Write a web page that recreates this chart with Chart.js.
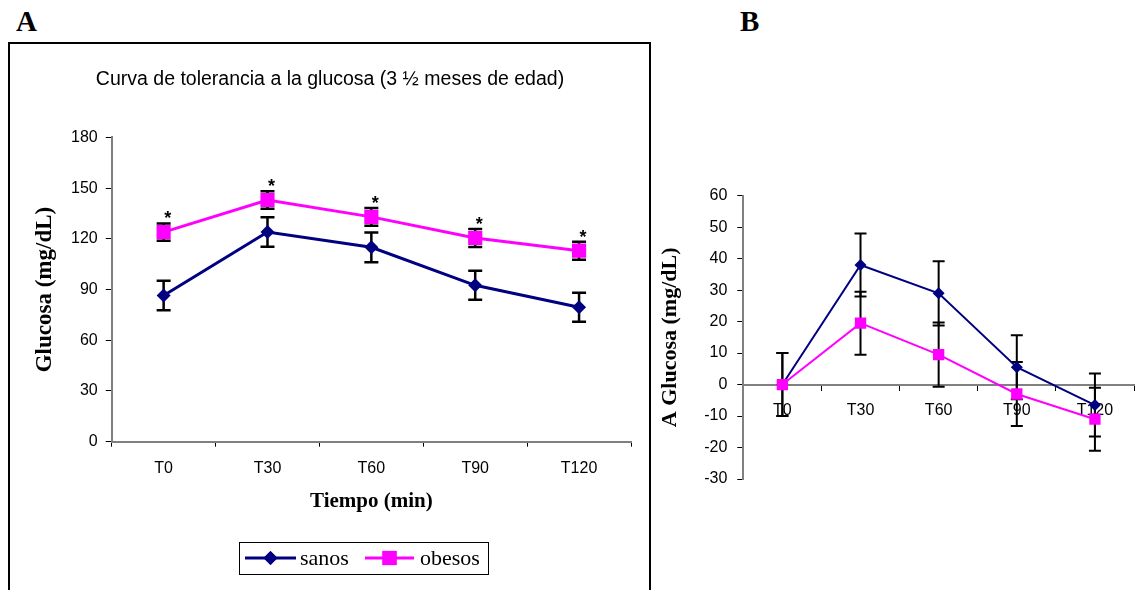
<!DOCTYPE html>
<html>
<head>
<meta charset="utf-8">
<script src="https://cdn.jsdelivr.net/npm/chart.js@4.4.1/dist/chart.umd.min.js"></script>
<style>
  html, body { margin: 0; padding: 0; background: #fff; }
  body { position: relative; width: 1142px; height: 590px; overflow: hidden; }
  .panel-label { position: absolute; top: 7px; font-family: "Liberation Serif", serif; font-weight: bold; font-size: 29px; line-height: 1; color: #000; }
  #frame { position: absolute; left: 8px; top: 42px; width: 643px; height: 600px; box-sizing: border-box; border: 2px solid #000; border-bottom: none; }
  canvas { position: absolute; top: 0; }
</style>
</head>
<body>
<div class="panel-label" style="left:16px">A</div>
<div class="panel-label" style="left:740px">B</div>
<div id="frame"></div>
<canvas id="chartA" width="652" height="590" style="left:0"></canvas>
<canvas id="chartB" width="490" height="590" style="left:652px"></canvas>
<script>
const timeLabels = ["T0", "T30", "T60", "T90", "T120"];

// A: glucosa absoluta
const sanosA = [86.5, 124, 115, 92.5, 79.5];
const sanosAErr = [8.7, 8.7, 8.8, 8.6, 8.6];
const obesosA = [124, 143, 133, 120.5, 113];
const obesosAErr = [5.1, 5.2, 5.3, 5.3, 5.3];
const signifA = [true, true, true, true, true];

// B: delta glucosa
const sanosB = [0, 38, 29, 5.5, -6.5];
const sanosBErr = [10, 10, 10.2, 10.2, 10];
const obesosB = [0, 19.5, 9.5, -3, -11];
const obesosBErr = [10, 10, 10.2, 10.2, 10];

const NAVY = "#000080";
const MAGENTA = "#ff00ff";
const SANS = "Liberation Sans";
const SERIF = "Liberation Serif";

Chart.defaults.font.family = SANS;
Chart.defaults.color = "#000";

const errorBars = {
  id: "errorBars",
  beforeDatasetsDraw(chart, args, opts) {
    const ctx = chart.ctx;
    const y = chart.scales.y;
    ctx.save();
    ctx.strokeStyle = "#000";
    ctx.lineWidth = opts.width;
    chart.data.datasets.forEach((ds, i) => {
      chart.getDatasetMeta(i).data.forEach((pt, j) => {
        const top = y.getPixelForValue(ds.data[j] + ds.errors[j]);
        const bot = y.getPixelForValue(ds.data[j] - ds.errors[j]);
        ctx.beginPath();
        ctx.moveTo(pt.x, top);
        ctx.lineTo(pt.x, bot);
        ctx.moveTo(pt.x - opts.cap, top);
        ctx.lineTo(pt.x + opts.cap, top);
        ctx.moveTo(pt.x - opts.cap, bot);
        ctx.lineTo(pt.x + opts.cap, bot);
        ctx.stroke();
      });
    });
    ctx.restore();
  }
};

const asterisks = {
  id: "asterisks",
  afterDatasetsDraw(chart) {
    const ctx = chart.ctx;
    const y = chart.scales.y;
    const ds = chart.data.datasets[1];
    ctx.save();
    ctx.fillStyle = "#000";
    ctx.font = "bold 18px " + SANS;
    ctx.textAlign = "center";
    ctx.textBaseline = "alphabetic";
    chart.getDatasetMeta(1).data.forEach((pt, j) => {
      if (!signifA[j]) return;
      const top = y.getPixelForValue(ds.data[j] + ds.errors[j]);
      ctx.fillText("*", pt.x + 4, top + 1);
    });
    ctx.restore();
  }
};

const boxLegend = {
  id: "boxLegend",
  afterDraw(chart) {
    const ctx = chart.ctx;
    const sets = chart.data.datasets;
    ctx.save();
    ctx.strokeStyle = "#000";
    ctx.lineWidth = 1;
    ctx.strokeRect(239.5, 542.5, 249, 32);
    const items = [[245, 296, 300], [365, 414, 420]];
    items.forEach(([x1, x2, tx], i) => {
      const ds = sets[i];
      ctx.strokeStyle = ds.borderColor;
      ctx.lineWidth = 3;
      ctx.beginPath();
      ctx.moveTo(x1, 558);
      ctx.lineTo(x2, 558);
      ctx.stroke();
      ctx.fillStyle = ds.pointBackgroundColor;
      Chart.helpers.drawPoint(ctx, { pointStyle: ds.pointStyle, radius: ds.pointRadius, borderWidth: 0 }, (x1 + x2) / 2, 558);
      ctx.fill();
      ctx.fillStyle = "#000";
      ctx.font = "22px " + SERIF;
      ctx.textBaseline = "alphabetic";
      ctx.fillText(ds.label, tx, 565);
    });
    ctx.restore();
  }
};

function axisOpts(extra) {
  return Object.assign({
    grid: { drawOnChartArea: false, drawTicks: true, tickLength: 6, color: "#000", lineWidth: 1 },
    border: { color: "#808080", width: 2 },
    ticks: { color: "#000", font: { family: SANS, size: 16 } }
  }, extra);
}

new Chart(document.getElementById("chartA"), {
  type: "line",
  data: {
    labels: timeLabels,
    datasets: [{
      label: "sanos",
      data: sanosA,
      errors: sanosAErr,
      order: 1,
      borderColor: NAVY,
      backgroundColor: NAVY,
      pointBackgroundColor: NAVY,
      pointBorderWidth: 0,
      borderWidth: 3,
      pointStyle: "rectRot",
      pointRadius: 7,
      tension: 0
    }, {
      label: "obesos",
      data: obesosA,
      errors: obesosAErr,
      order: 0,
      borderColor: MAGENTA,
      backgroundColor: MAGENTA,
      pointBackgroundColor: MAGENTA,
      pointBorderWidth: 0,
      borderWidth: 3,
      pointStyle: "rect",
      pointRadius: 10,
      tension: 0
    }]
  },
  options: {
    responsive: false,
    animation: false,
    devicePixelRatio: 1,
    layout: { padding: { left: 29, right: 21, top: 20, bottom: 0 } },
    plugins: {
      legend: { display: false },
      tooltip: { enabled: false },
      title: {
        display: true,
        text: "Curva de tolerancia a la glucosa (3 \u00bd meses de edad)",
        color: "#000",
        font: { family: SANS, size: 19.5, weight: "normal" },
        padding: { top: 48, bottom: 46 }
      },
      errorBars: { width: 2.5, cap: 7 }
    },
    scales: {
      x: axisOpts({
        offset: true,
        grid: { offset: true, drawOnChartArea: false, drawTicks: true, tickLength: 5, color: "#000", lineWidth: 1 },
        ticks: { color: "#000", font: { family: SANS, size: 16 }, padding: 12, maxRotation: 0, autoSkip: false },
        title: { display: true, text: "Tiempo (min)", color: "#000", font: { family: SERIF, size: 21, weight: "bold" }, padding: { top: 0, bottom: 76 } },
        afterFit(s) { s.height = 148.3; }
      }),
      y: axisOpts({
        min: 0,
        max: 180,
        ticks: { color: "#000", font: { family: SANS, size: 16 }, stepSize: 30, padding: 8 },
        title: { display: true, text: "Glucosa (mg/dL)", color: "#000", font: { family: SERIF, size: 23, weight: "bold" }, padding: { top: 2, bottom: 0 } },
        afterFit(s) { s.width = 82.7; }
      })
    }
  },
  plugins: [errorBars, asterisks, boxLegend]
});

new Chart(document.getElementById("chartB"), {
  type: "line",
  data: {
    labels: timeLabels,
    datasets: [{
      label: "sanos",
      data: sanosB,
      errors: sanosBErr,
      order: 1,
      borderColor: NAVY,
      backgroundColor: NAVY,
      pointBackgroundColor: NAVY,
      pointBorderWidth: 0,
      borderWidth: 2,
      pointStyle: "rectRot",
      pointRadius: 6,
      tension: 0
    }, {
      label: "obesos",
      data: obesosB,
      errors: obesosBErr,
      order: 0,
      borderColor: MAGENTA,
      backgroundColor: MAGENTA,
      pointBackgroundColor: MAGENTA,
      pointBorderWidth: 0,
      borderWidth: 2,
      pointStyle: "rect",
      pointRadius: 8,
      tension: 0
    }]
  },
  options: {
    responsive: false,
    animation: false,
    devicePixelRatio: 1,
    layout: { padding: { left: 2, right: 1, top: 195.7, bottom: 111 } },
    plugins: {
      legend: { display: false },
      tooltip: { enabled: false },
      errorBars: { width: 2, cap: 6 }
    },
    scales: {
      x: axisOpts({
        position: { y: 0 },
        offset: true,
        grid: { offset: true, drawOnChartArea: false, drawTicks: true, tickLength: 5, color: "#000", lineWidth: 1 },
        ticks: { color: "#000", font: { family: SANS, size: 16 }, padding: 11, maxRotation: 0, autoSkip: false }
      }),
      y: axisOpts({
        min: -30,
        max: 60,
        ticks: { color: "#000", font: { family: SANS, size: 16 }, stepSize: 10, padding: 10 },
        title: { display: true, text: "A Glucosa (mg/dL)", color: "#000", font: { family: SERIF, size: 22, weight: "bold" }, padding: { top: 3.3, bottom: 0 } },
        afterFit(s) { s.width = 89.3; }
      })
    }
  },
  plugins: [errorBars]
});
</script>
</body>
</html>
